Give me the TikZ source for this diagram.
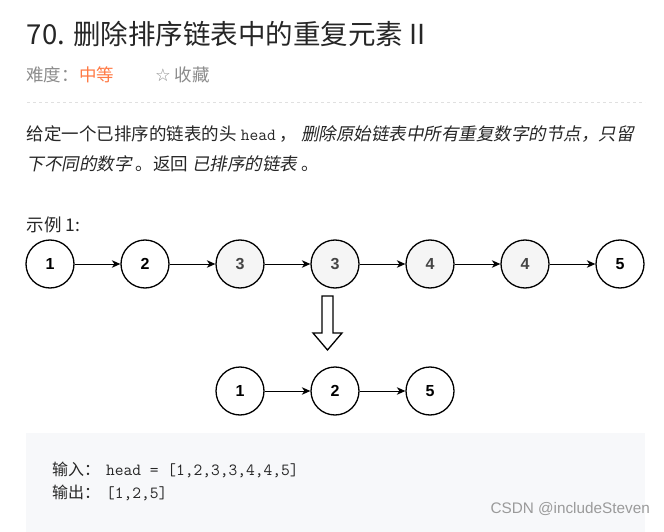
\documentclass[tikz,border=0pt]{standalone}
\usepackage{fontspec}
\usetikzlibrary{arrows.meta}
\newfontfamily\cjk{Noto Sans CJK SC}
\newfontfamily\cjki{Noto Sans CJK SC}[FakeSlant=0.2]
\newfontfamily\numf{Liberation Sans}
\newfontfamily\symf{DejaVu Sans}
\definecolor{txt}{HTML}{262626}
\definecolor{graytxt}{HTML}{8C8C8C}
\definecolor{orng}{HTML}{FF7A45}
\definecolor{codebg}{HTML}{F7F8FA}
\definecolor{dashc}{HTML}{E0E0E0}
\definecolor{nodefill}{HTML}{F5F5F5}
\definecolor{dupt}{HTML}{444444}
\definecolor{wmgray}{HTML}{9A9A9A}
\begin{document}
\begin{tikzpicture}[x=1pt,y=-1pt,
  txtnode/.style={anchor=base west, inner sep=0pt, outer sep=0pt, text=txt},
  llnode/.style={circle, draw=black, line width=1.3pt, minimum size=48pt, inner sep=0pt,
    fill=white, text=black, font=\numf\bfseries\fontsize{16}{16}\selectfont},
  dupnode/.style={llnode, fill=nodefill, text=dupt},
  linkarrow/.style={-{Stealth[length=8.5pt,width=7.5pt,inset=2.5pt]}, line width=1pt, black},
  body/.style={font=\cjk\fontsize{17.5}{20}\selectfont}
]
\useasboundingbox (0,0) rectangle (664,532);
\fill[white] (0,0) rectangle (664,532);

% title and meta
\node[txtnode, font=\cjk\fontsize{27.5}{30}\selectfont] (title) at (27,45) {70. 删除排序链表中的重复元素 II};
\node[txtnode, body, text=graytxt] (diff) at (26,81.6) {难度：};
\node[txtnode, body, text=orng] (level) at (79,81.6) {中等};
\node[txtnode, body, text=graytxt] (fav) at (155,81.6) {{\symf ☆} 收藏};
\draw[dashc, dash pattern=on 3pt off 3pt, line width=1pt] (27,102.5) -- (645,102.5);

% description
\node[txtnode, body] (line1) at (27,140.2) {给定一个已排序的链表的头 {\ttfamily\fontsize{17}{20}\selectfont head} ， {\cjki 删除原始链表中所有重复数字的节点，只留}};
\node[txtnode, body] (line2) at (27,170.2) {{\cjki 下不同的数字} 。返回 {\cjki 已排序的链表} 。};
\node[txtnode, body] (ex) at (27,231.5) {示例 1:};

% first list
\node[llnode]  (a1) at (50,264)  {1};
\node[llnode]  (a2) at (145,264) {2};
\node[dupnode] (a3) at (240,264) {3};
\node[dupnode] (a4) at (335,264) {3};
\node[dupnode] (a5) at (430,264) {4};
\node[dupnode] (a6) at (525,264) {4};
\node[llnode]  (a7) at (620,264) {5};
\foreach \i/\j in {a1/a2,a2/a3,a3/a4,a4/a5,a5/a6,a6/a7}
  \draw[linkarrow] (\i) -- (\j);

% hollow arrow
\draw[line width=1.3pt, fill=white] (322,296) -- (333,296) -- (333,333) -- (342,333)
  -- (327.5,350) -- (313,333) -- (322,333) -- cycle;

% result list
\node[llnode] (b1) at (240,391) {1};
\node[llnode] (b2) at (335,391) {2};
\node[llnode] (b3) at (430,391) {5};
\draw[linkarrow] (b1) -- (b2);
\draw[linkarrow] (b2) -- (b3);

% code box
\fill[codebg] (26,433) rectangle (645,532);
\node[txtnode, font=\cjk\fontsize{16}{18}\selectfont] (in1) at (52,475) {输入：};
\node[txtnode, font=\ttfamily\fontsize{17}{20}\selectfont] (in2) at (106,475) {head = [1,2,3,3,4,4,5]};
\node[txtnode, font=\cjk\fontsize{16}{18}\selectfont] (out1) at (52,498) {输出：};
\node[txtnode, font=\ttfamily\fontsize{17}{20}\selectfont] (out2) at (106,498) {[1,2,5]};

% watermark
\node[anchor=base east, inner sep=0pt, text=wmgray, font=\numf\fontsize{15.3}{17}\selectfont] (wm) at (650,513) {CSDN @includeSteven};
\end{tikzpicture}
\end{document}
